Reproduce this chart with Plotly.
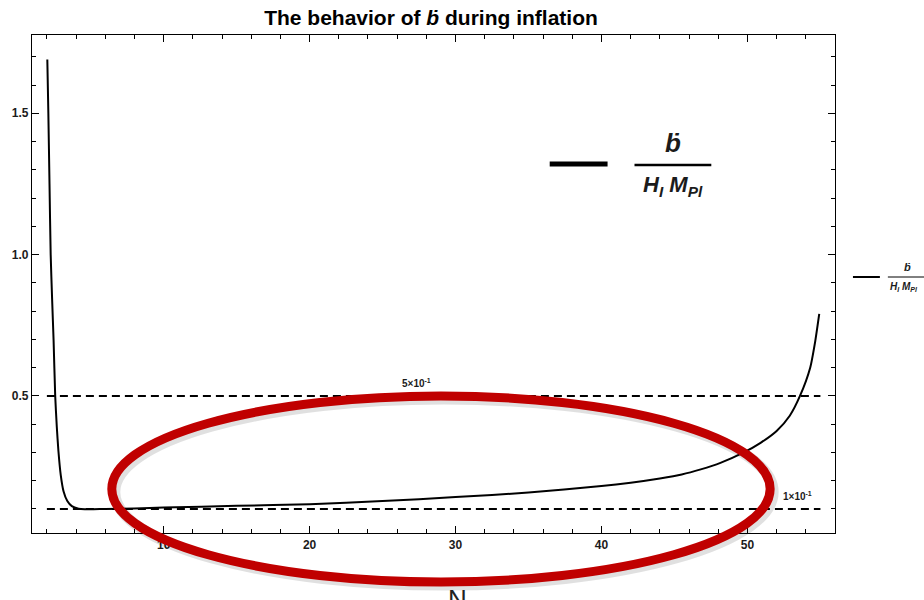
import plotly.graph_objects as go

# ---- data ----
ne = [2.03, 2.1, 2.18, 2.26, 2.36, 2.46, 2.57, 2.68, 2.79, 2.95, 3.14, 3.4, 3.71, 4.17, 4.6, 5.2, 6.0, 8.0,
      10.0, 15.0, 20.0, 25.0, 30.0, 35.0, 40.0, 42.0, 44.0, 45.5, 46.8, 48.15, 49.75, 50.9, 52.0, 52.9, 53.6,
      54.3, 54.65, 54.92]
bdot = [1.69, 1.50, 1.25, 1.00, 0.84, 0.695, 0.50, 0.39, 0.305, 0.22, 0.163, 0.128, 0.11, 0.101, 0.099, 0.099,
        0.100, 0.102, 0.105, 0.111, 0.117, 0.128, 0.142, 0.158, 0.181, 0.193, 0.208, 0.222, 0.240, 0.263,
        0.300, 0.334, 0.376, 0.430, 0.500, 0.600, 0.695, 0.790]
ref_levels = [0.5, 0.1]
ref_labels = ["5×10<sup>-1</sup>", "1×10<sup>-1</sup>"]
ref_label_x = [27.3, 53.4]
ref_x = [2.0, 55.0]

x_range = [0.98, 56.0]
y_range = [0.015, 1.777]
x_ticks = [10, 20, 30, 40, 50]
y_ticks = [0.5, 1.0, 1.5]

# ---- layout geometry ----
W, H = 924, 600
ML, MR, MT, MB = 30, 89, 35, 67
PW, PH = W - ML - MR, H - MT - MB


def X(px):
    return (px - ML) / PW


def Y(py):
    return (H - MB - py) / PH


FONT = "Liberation Sans, Arial, sans-serif"
INK = "#1b1b1b"

fig = go.Figure()
fig.add_trace(go.Scatter(x=ne, y=bdot, mode="lines", line=dict(color="black", width=2),
                         line_shape="spline", line_smoothing=0.6, showlegend=False, hoverinfo="skip"))
for lv in ref_levels:
    fig.add_trace(go.Scatter(x=ref_x, y=[lv, lv], mode="lines",
                             line=dict(color="black", width=2, dash="8px,5px"),
                             showlegend=False, hoverinfo="skip"))

annotations = []
for lv, lab, lx in zip(ref_levels, ref_labels, ref_label_x):
    annotations.append(dict(x=lx, y=lv, xref="x", yref="y", text=lab, showarrow=False,
                            xanchor="center", yanchor="bottom", yshift=5,
                            font=dict(family=FONT, size=10, color=INK, weight="bold")))

# legend inside plot
annotations += [
    dict(x=X(673), y=Y(160), xref="paper", yref="paper", xanchor="center", yanchor="bottom",
         text="<b><i>ḃ</i></b>", showarrow=False,
         font=dict(family=FONT, size=26, color=INK)),
    dict(x=X(673), y=Y(170), xref="paper", yref="paper", xanchor="center", yanchor="top",
         text="<b><i>H<sub>I</sub> M<sub>Pl</sub></i></b>", showarrow=False,
         font=dict(family=FONT, size=22, color=INK)),
    # outer legend
    dict(x=X(908), y=Y(275), xref="paper", yref="paper", xanchor="center", yanchor="bottom",
         text="<b><i>ḃ</i></b>", showarrow=False,
         font=dict(family=FONT, size=11, color=INK)),
    dict(x=X(888), y=Y(279), xref="paper", yref="paper", xanchor="left", yanchor="top",
         text="<b><i>H<sub>I</sub> M<sub>Pl</sub></i></b>", showarrow=False,
         font=dict(family=FONT, size=10, color=INK)),
    # x axis label
    dict(x=X(462), y=Y(582), xref="paper", yref="paper", xanchor="center", yanchor="top",
         text="N<sub>e</sub>", showarrow=False,
         font=dict(family=FONT, size=26, color="#222")),
]

shapes = [
    dict(type="line", xref="paper", yref="paper", x0=X(549), x1=X(607), y0=Y(164), y1=Y(164),
         line=dict(color="black", width=5)),
    dict(type="line", xref="paper", yref="paper", x0=X(634), x1=X(711), y0=Y(165), y1=Y(165),
         line=dict(color="black", width=2.5)),
    dict(type="line", xref="paper", yref="paper", x0=X(853), x1=X(880), y0=Y(277), y1=Y(277),
         line=dict(color="black", width=2)),
    dict(type="line", xref="paper", yref="paper", x0=X(888), x1=X(930), y0=Y(277), y1=Y(277),
         line=dict(color="black", width=1)),
    # red ellipse shadow + ellipse
    dict(type="circle", xref="paper", yref="paper", layer="above",
         x0=X(113), x1=X(773), y0=Y(585), y1=Y(399),
         line=dict(color="rgba(0,0,0,0.12)", width=11)),
    dict(type="circle", xref="paper", yref="paper", layer="above",
         x0=X(110), x1=X(770), y0=Y(582), y1=Y(396),
         line=dict(color="#C00000", width=9)),
]

axis_common = dict(showline=True, linecolor="black", linewidth=1.3, mirror="allticks",
                   ticks="inside", ticklen=7, tickwidth=1, tickcolor="black",
                   showgrid=False, zeroline=False,
                   tickfont=dict(family=FONT, size=12, color=INK, weight="bold"))

fig.update_layout(
    width=W, height=H,
    margin=dict(l=ML, r=MR, t=MT, b=MB),
    paper_bgcolor="white", plot_bgcolor="white",
    title=dict(text="The behavior of <i>ḃ</i> during inflation", xref="container", x=431 / W,
               xanchor="center", yref="container", y=1 - 18 / H, yanchor="middle",
               font=dict(family=FONT, size=21, color="black", weight="bold")),
    xaxis=dict(range=x_range, tickvals=x_ticks, ticktext=[str(v) for v in x_ticks],
               minor=dict(dtick=2, tick0=0, ticks="inside", ticklen=4, tickcolor="black"),
               **axis_common),
    yaxis=dict(range=y_range, tickvals=y_ticks, ticktext=[f"{v:.1f}" for v in y_ticks],
               minor=dict(dtick=0.1, tick0=0, ticks="inside", ticklen=4, tickcolor="black"),
               **axis_common),
    annotations=annotations,
    shapes=shapes,
    showlegend=False,
)

fig.write_html("out.html")
